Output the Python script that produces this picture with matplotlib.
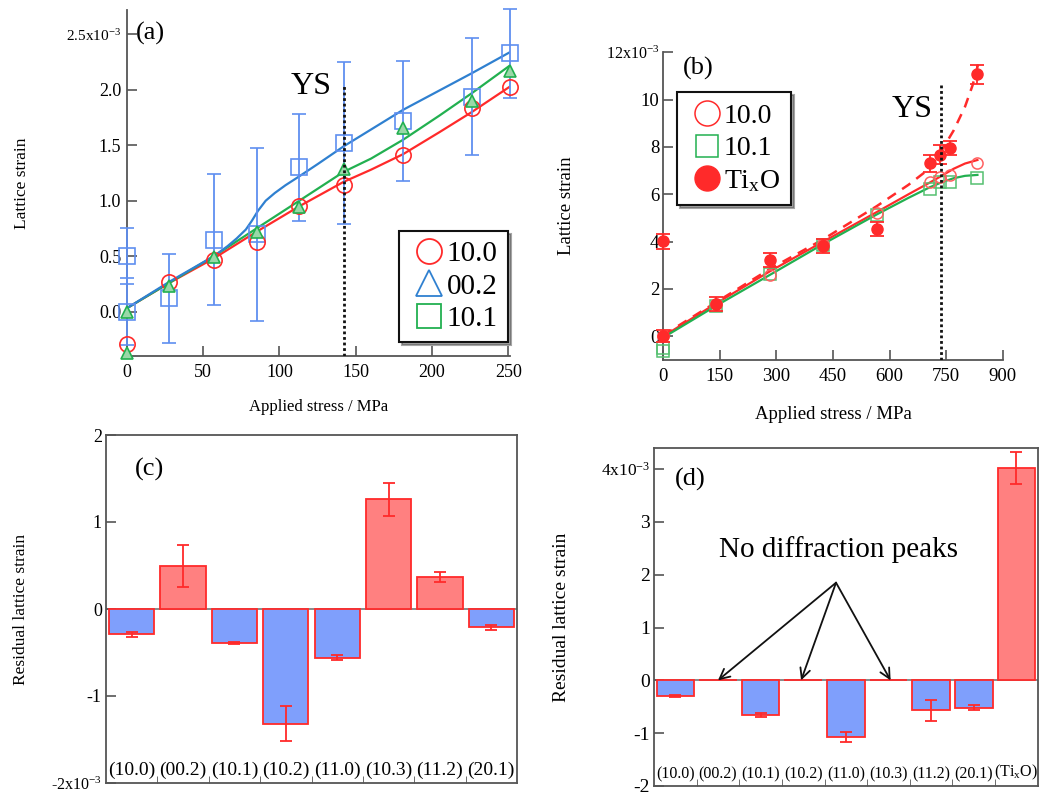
import matplotlib
matplotlib.use("Agg")
import matplotlib.pyplot as plt
from matplotlib.lines import Line2D
from matplotlib.transforms import blended_transform_factory
import numpy as np

plt.rcParams['font.family'] = ['Liberation Serif', 'DejaVu Serif']
plt.rcParams['mathtext.fontset'] = 'custom'
plt.rcParams['mathtext.rm'] = 'Liberation Serif'
plt.rcParams['mathtext.it'] = 'Liberation Serif:italic'
plt.rcParams['mathtext.default'] = 'regular'

RED = '#ff2a2a'
BLUE_L = '#2f80d0'
BLUE_M = '#5f8ff0'
GREEN = '#22b050'
SPINE = '#555555'

# ---------------- Panel (a) data (x1e-3) ----------------
a_x_100 = [0, 28, 57, 85, 113, 142, 181, 226, 251]
a_y_100 = [-0.29, 0.27, 0.47, 0.63, 0.95, 1.14, 1.41, 1.84, 2.03]
a_x_002 = [0, 0, 28, 57, 85, 113, 142, 181, 226, 251]
a_y_002 = [-0.37, 0.0, 0.23, 0.49, 0.72, 0.94, 1.29, 1.66, 1.90, 2.17]
a_x_101 = [0, 0, 28, 57, 85, 113, 142, 181, 226, 251]
a_y_101 = [0.50, 0.0, 0.12, 0.65, 0.70, 1.30, 1.52, 1.72, 1.94, 2.33]
a_e_101 = [0.25, 0.30, 0.40, 0.59, 0.78, 0.48, 0.73, 0.54, 0.53, 0.40]
# fitted curves
a_cx_red = [0, 28, 57, 85, 113, 142, 160, 181, 205, 226, 251]
a_cy_red = [0.03, 0.26, 0.48, 0.72, 0.95, 1.17, 1.28, 1.42, 1.62, 1.80, 2.03]
a_cx_grn = [0, 28, 57, 85, 113, 142, 160, 181, 205, 226, 251]
a_cy_grn = [0.03, 0.26, 0.50, 0.75, 1.00, 1.26, 1.38, 1.55, 1.77, 1.97, 2.22]
a_cx_blu = [0, 28, 57, 66, 72, 78, 82, 86, 91, 97, 104, 113, 125, 142, 181, 226, 251]
a_cy_blu = [0.03, 0.27, 0.50, 0.59, 0.66, 0.74, 0.82, 0.91, 1.00, 1.07, 1.14, 1.22, 1.33, 1.49, 1.82, 2.15, 2.34]
a_ys = 142

# ---------------- Panel (b) data (x1e-3) ----------------
b_x_100 = [0, 141, 283, 424, 566, 707, 734, 760, 833]
b_y_100 = [0.0, 1.35, 2.60, 3.90, 5.20, 6.54, 6.75, 6.82, 7.31]
b_x_101 = [0, 0, 141, 283, 424, 566, 707, 734, 760, 833]
b_y_101 = [-0.49, -0.63, 1.30, 2.64, 3.87, 5.13, 6.22, 6.54, 6.54, 6.71]
b_x_tio = [0, 0, 141, 283, 424, 566, 707, 734, 760, 833]
b_y_tio = [0.0, 4.01, 1.35, 3.21, 3.80, 4.53, 7.31, 7.67, 7.97, 11.08]
b_e_tio = [0.25, 0.30, 0.30, 0.30, 0.30, 0.30, 0.35, 0.40, 0.30, 0.40]
b_cx_red = [0, 141, 283, 424, 566, 650, 707, 740, 770, 800, 833]
b_cy_red = [0.0, 1.40, 2.75, 4.00, 5.25, 6.00, 6.50, 6.80, 7.08, 7.30, 7.45]
b_cx_grn = [0, 141, 283, 424, 566, 650, 707, 740, 770, 800, 833]
b_cy_grn = [-0.05, 1.30, 2.60, 3.90, 5.15, 5.85, 6.30, 6.52, 6.68, 6.78, 6.82]
b_cx_dash = [0, 141, 283, 424, 566, 650, 707, 740, 770, 800, 820, 835]
b_cy_dash = [0.05, 1.45, 2.85, 4.10, 5.50, 6.40, 7.10, 7.90, 8.70, 9.70, 10.60, 11.50]
b_ys = 736

# ---------------- Panel (c) data (x1e-3) ----------------
c_labels = ['(10.0)', '(00.2)', '(10.1)', '(10.2)', '(11.0)', '(10.3)', '(11.2)', '(20.1)']
c_values = [-0.29, 0.49, -0.39, -1.32, -0.56, 1.26, 0.37, -0.21]
c_errors = [0.03, 0.24, 0.01, 0.20, 0.03, 0.19, 0.055, 0.03]

# ---------------- Panel (d) data (x1e-3) ----------------
d_labels = ['(10.0)', '(00.2)', '(10.1)', '(10.2)', '(11.0)', '(10.3)', '(11.2)', '(20.1)', '(Ti$_x$O)']
d_values = [-0.30, 0.0, -0.65, 0.0, -1.08, 0.0, -0.57, -0.52, 4.02]
d_errors = [0.02, 0.0, 0.04, 0.0, 0.095, 0.0, 0.20, 0.05, 0.31]
d_arrow_x = [1.0, 2.95, 5.05]

fig = plt.figure(figsize=(10.39, 7.96), dpi=100)


def style_axis(ax, box=False):
    for s in ax.spines.values():
        s.set_color(SPINE)
        s.set_linewidth(1.3)
    if not box:
        ax.spines['top'].set_visible(False)
        ax.spines['right'].set_visible(False)
    ax.tick_params(direction='in', color=SPINE, width=1.2, length=7, top=False, right=False)


# ======== (a) ========
ax = fig.add_axes([126.7/1039, 1-356/796, 383.3/1039, 346/796])
style_axis(ax)
ax.set_xlim(0, 251)
ax.set_ylim(-0.4, 2.72)
ax.plot(a_cx_red, a_cy_red, color=RED, lw=1.6, zorder=3)
ax.plot(a_cx_grn, a_cy_grn, color=GREEN, lw=1.6, zorder=3)
ax.plot(a_cx_blu, a_cy_blu, color=BLUE_L, lw=1.6, zorder=3)
ax.errorbar(a_x_101, a_y_101, yerr=a_e_101, fmt='s', ms=11, mfc='none', mec=BLUE_M,
            mew=1.2, ecolor=BLUE_M, elinewidth=1.3, capsize=5, capthick=1.3, clip_on=False, zorder=4)
ax.plot(a_x_100, a_y_100, 'o', ms=11, mfc='none', mec=RED, mew=1.2, clip_on=False, zorder=5)
ax.plot(a_x_002, a_y_002, '^', ms=8, mfc='#9ad8a8', mec=GREEN, mew=1.2, clip_on=False, zorder=5)
ax.plot([a_ys, a_ys], [-0.4, 2.05], color='#111111', ls=(0, (1, 1)), lw=2.0, zorder=6)
ax.text(121, 2.03, 'YS', fontsize=23, ha='center', va='center')
ax.text(6, 2.51, '(a)', fontsize=19, ha='left', va='center')
ax.set_xticks([0, 50, 100, 150, 200, 250])
ax.set_xticklabels(['0', '50', '100', '150', '200', '250'], fontsize=13)
ax.set_yticks([0.0, 0.5, 1.0, 1.5, 2.0, 2.5])
ax.set_yticklabels(['0.0', '0.5', '1.0', '1.5', '2.0', '2.5x10$^{-3}$'], fontsize=13)
ax.get_yticklabels()[-1].set_fontsize(11)
ax.tick_params(axis='x', pad=6)
ax.tick_params(axis='y', pad=4)
ax.set_xlabel('Applied stress / MPa', fontsize=12, labelpad=13)
ax.set_ylabel('Lattice strain', fontsize=12.5, labelpad=26)
h = [Line2D([], [], marker='o', ls='none', ms=18, mfc='none', mec=RED, mew=1.3),
     Line2D([], [], marker='^', ls='none', ms=19, mfc='none', mec=BLUE_L, mew=1.3),
     Line2D([], [], marker='s', ls='none', ms=17, mfc='none', mec=GREEN, mew=1.3)]
leg = ax.legend(h, ['10.0', '00.2', '10.1'], loc='lower right', bbox_to_anchor=(0.995, 0.04),
                fontsize=21, frameon=True, fancybox=False, shadow=True, handletextpad=-0.1,
                handlelength=1.4, borderpad=0.35, labelspacing=0.2, borderaxespad=0)
leg.get_frame().set_edgecolor('#111111')
leg.get_frame().set_linewidth(1.5)

# ======== (b) ========
ax = fig.add_axes([663.3/1039, 1-360/796, 339.4/1039, 307.7/796])
style_axis(ax)
ax.set_xlim(0, 900)
ax.set_ylim(-1, 12)
ax.plot(b_cx_dash, b_cy_dash, color=RED, lw=1.8, ls=(0, (4, 3)), zorder=3)
ax.plot(b_cx_red, b_cy_red, color=RED, lw=1.6, zorder=3)
ax.plot(b_cx_grn, b_cy_grn, color=GREEN, lw=1.6, zorder=3)
ax.plot(b_x_101, b_y_101, 's', ms=8, mfc='none', mec='#55c070', mew=1.1, clip_on=False, zorder=4)
ax.plot(b_x_100, b_y_100, 'o', ms=8, mfc='none', mec='#ff6060', mew=1.1, clip_on=False, zorder=4)
ax.errorbar(b_x_tio, b_y_tio, yerr=b_e_tio, fmt='o', ms=8, mfc=RED, mec=RED, ecolor=RED,
            elinewidth=1.3, capsize=5, capthick=1.3, clip_on=False, zorder=5)
ax.plot([b_ys, b_ys], [-1, 10.6], color='#111111', ls=(0, (1, 1)), lw=2.0, zorder=6)
ax.text(661, 9.6, 'YS', fontsize=23, ha='center', va='center')
ax.text(52, 11.3, '(b)', fontsize=19, ha='left', va='center')
ax.set_xticks([0, 150, 300, 450, 600, 750, 900])
ax.set_xticklabels(['0', '150', '300', '450', '600', '750', '900'], fontsize=13.5)
ax.set_yticks([0, 2, 4, 6, 8, 10, 12])
ax.set_yticklabels(['0', '2', '4', '6', '8', '10', '12x10$^{-3}$'], fontsize=13.5)
ax.get_yticklabels()[-1].set_fontsize(11.5)
ax.tick_params(axis='x', pad=6)
ax.tick_params(axis='y', pad=3)
ax.set_xlabel('Applied stress / MPa', fontsize=13.5, labelpad=15)
ax.set_ylabel('Lattice strain', fontsize=13.5, labelpad=22)
h = [Line2D([], [], marker='o', ls='none', ms=18, mfc='none', mec=RED, mew=1.1),
     Line2D([], [], marker='s', ls='none', ms=16, mfc='none', mec=GREEN, mew=1.1),
     Line2D([], [], marker='o', ls='none', ms=18, mfc=RED, mec=RED)]
leg = ax.legend(h, ['10.0', '10.1', 'Ti$_x$O'], loc='upper left', bbox_to_anchor=(0.04, 0.87),
                fontsize=20, frameon=True, fancybox=False, shadow=True, handletextpad=-0.1,
                handlelength=1.4, borderpad=0.4, labelspacing=0.25, borderaxespad=0)
leg.get_frame().set_edgecolor('#111111')
leg.get_frame().set_linewidth(1.5)


def bar_panel(ax, labels, values, errors, fs_lab):
    n = len(values)
    colors = ['#ff8080' if v > 0 else '#7f9ffc' for v in values]
    x = np.arange(n)
    ax.bar(x, values, width=0.88, color=colors, edgecolor=RED, linewidth=1.3, zorder=2)
    xe = [xi for xi, e in zip(x, errors) if e > 0]
    ve = [v for v, e in zip(values, errors) if e > 0]
    ee = [e for e in errors if e > 0]
    ax.errorbar(xe, ve, yerr=ee, fmt='none', ecolor=RED, elinewidth=1.3, capsize=4, capthick=1.3, zorder=3)
    ax.axhline(0, color='#777777', lw=1.2, zorder=1)
    ax.set_xlim(-0.5, n - 0.5)
    ax.set_xticks([])
    ax.set_xticks(np.arange(n - 1) + 0.5, minor=True)
    ax.tick_params(axis='x', which='minor', direction='in', length=5, color=SPINE, bottom=True,
                   labelbottom=False)
    tr = blended_transform_factory(ax.transData, ax.transAxes)
    for xi, lab in zip(x, labels):
        ax.text(xi, 0.012, lab, transform=tr, ha='center', va='bottom', fontsize=fs_lab)


# ======== (c) ========
ax = fig.add_axes([106/1039, 1-783/796, 411/1039, 348/796])
style_axis(ax, box=True)
ax.set_ylim(-2, 2)
bar_panel(ax, c_labels, c_values, c_errors, 14)
ax.set_yticks([-2, -1, 0, 1, 2])
ax.set_yticklabels(['-2x10$^{-3}$', '-1', '0', '1', '2'], fontsize=13)
ax.get_yticklabels()[0].set_fontsize(11.5)
ax.tick_params(axis='y', pad=3)
ax.set_ylabel('Residual lattice strain', fontsize=12.5, labelpad=16)
ax.text(0.06, 1.6, '(c)', fontsize=19, ha='left', va='center')

# ======== (d) ========
ax = fig.add_axes([654/1039, 1-786/796, 383.7/1039, 338/796])
style_axis(ax, box=True)
ax.set_ylim(-2, 4.4)
bar_panel(ax, d_labels, d_values, d_errors, 11.5)
ax.set_yticks([-2, -1, 0, 1, 2, 3, 4])
ax.set_yticklabels(['-2', '-1', '0', '1', '2', '3', '4x10$^{-3}$'], fontsize=14)
ax.get_yticklabels()[-1].set_fontsize(12.5)
ax.tick_params(axis='y', pad=3)
ax.set_ylabel('Residual lattice strain', fontsize=14, labelpad=22)
ax.text(0.36, 3.8, '(d)', fontsize=19, ha='center', va='center')
ax.text(3.82, 2.47, 'No diffraction peaks', fontsize=21, ha='center', va='center')
for xa in d_arrow_x:
    ax.annotate('', xy=(xa, 0.0), xytext=(3.77, 1.85),
                arrowprops=dict(arrowstyle='->', color='#111111', lw=1.3, mutation_scale=18,
                                shrinkA=0, shrinkB=0))

fig.savefig('out.png', dpi=100)
